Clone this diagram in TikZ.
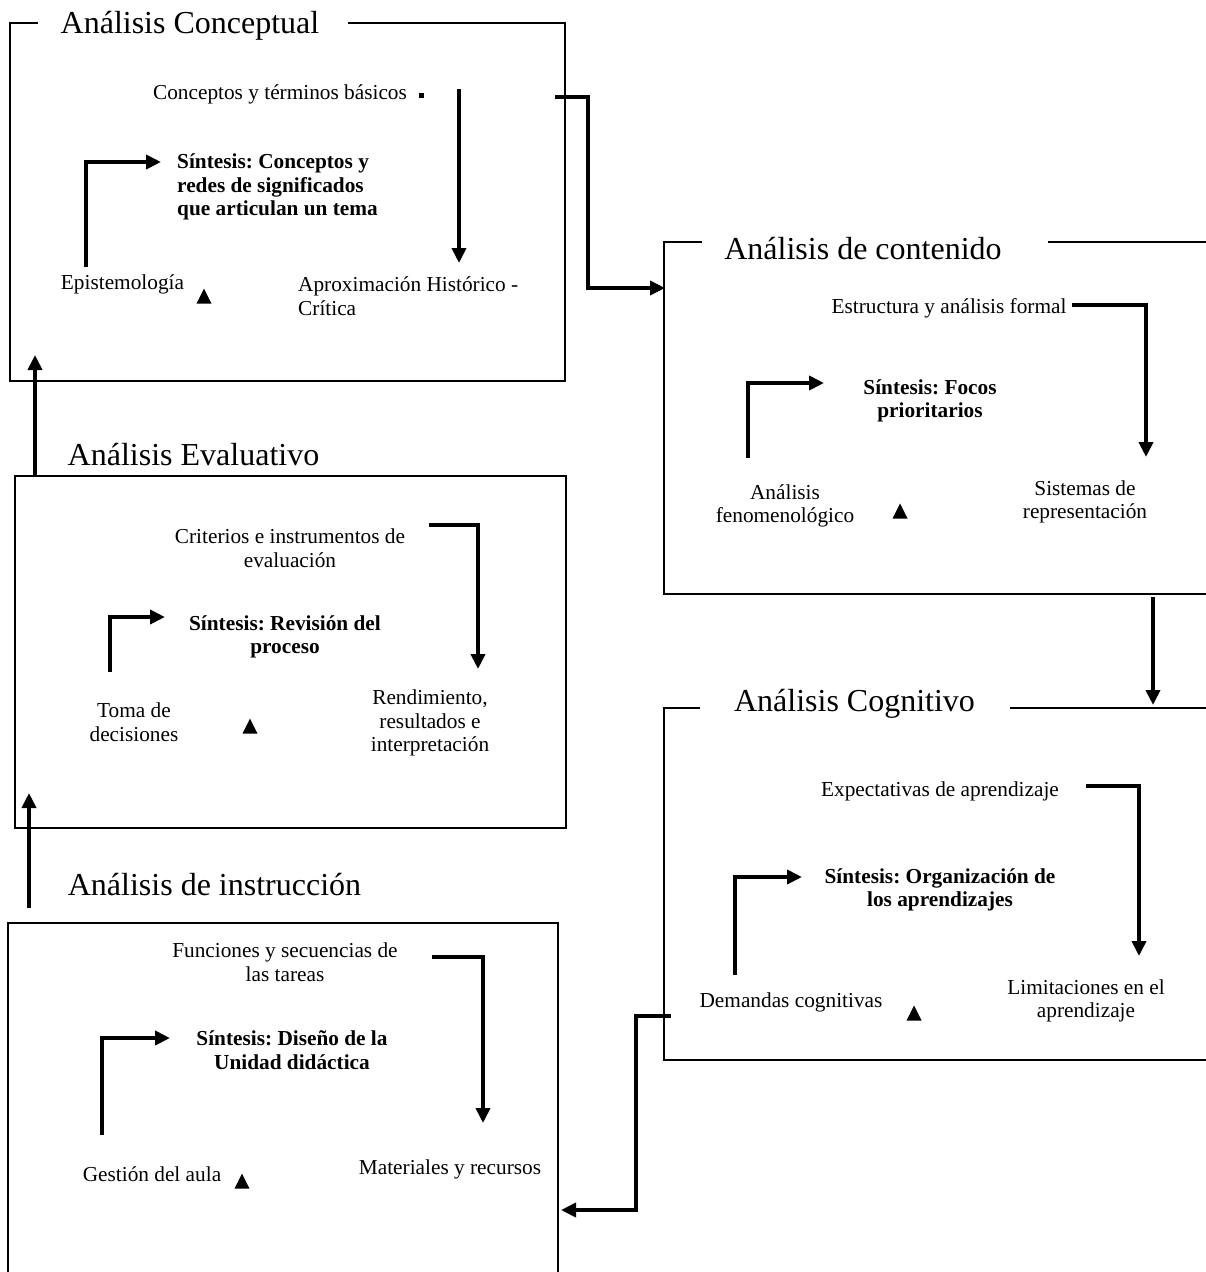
\documentclass[tikz,border=0pt]{standalone}
\usepackage{fontspec}
\setmainfont{Liberation Serif}
\usetikzlibrary{arrows.meta}
% small filled triangle under each cycle
\newcommand\marca[1]{\fill (#1) ++(-7.5,7.5) -- ++(15,0) -- ++(-7.5,-15) -- cycle;}
\begin{document}
\frenchspacing
\begin{tikzpicture}[x=1pt, y=-1pt,
  marco/.style={line width=1.3pt},
  flecha/.style={line width=4pt, -{Triangle[length=15pt,width=14pt]}},
  texto/.style={font=\fontsize{21.3}{23.5}\selectfont, align=center, inner sep=0pt},
  sintesis/.style={texto, font=\fontsize{21.3}{23.5}\selectfont\bfseries},
  titulo/.style={font=\fontsize{32}{36}\selectfont, inner sep=0pt, anchor=base}]
\clip (0,0) rectangle (1206,1272);

% Analisis Conceptual
\draw[marco] (348,23) -- (565,23) -- (565,381) -- (10,381) -- (10,23) -- (38,23);
\node[titulo] (tconc) at (190,33) {Análisis Conceptual};
\node[texto] (conc1) at (280,94) {Conceptos y términos básicos};
\node[fill, minimum size=5pt, inner sep=0pt] (punto) at (421,95) {};
\node[sintesis, align=left, anchor=west] (conc2) at (177,187) {Síntesis: Conceptos y\\redes de significados\\que articulan un tema};
\node[texto] (conc3) at (122.5,284) {Epistemología};
\node[texto, align=left, anchor=west] (conc4) at (298,296) {Aproximación Histórico -\\Crítica};
\marca{204,296}
\coordinate (conca) at (459,89);  \coordinate (concb) at (459,263);
\coordinate (concc) at (86,267);  \coordinate (concd) at (161,162);
\draw[flecha] (conca) -- (concb);
\draw[flecha] (concc) |- (concd);

% Analisis de contenido
\draw[marco] (1048,242) -- (1215,242) -- (1215,594) -- (664,594) -- (664,242) -- (702,242);
\node[titulo] (tcont) at (863,259) {Análisis de contenido};
\node[texto] (cont1) at (949,308) {Estructura y análisis formal};
\node[sintesis] (cont2) at (930,401) {Síntesis: Focos\\prioritarios};
\node[texto] (cont3) at (785,506) {Análisis\\fenomenológico};
\node[texto] (cont4) at (1085,502) {Sistemas de\\representación};
\marca{900,511}
\coordinate (conta) at (1072,305); \coordinate (contb) at (1146,457);
\coordinate (contc) at (748,458);  \coordinate (contd) at (824,383);
\draw[flecha] (conta) -| (contb);
\draw[flecha] (contc) |- (contd);

% Analisis Cognitivo
\draw[marco] (1010,708) -- (1215,708) -- (1215,1060) -- (664,1060) -- (664,708) -- (700,708);
\node[titulo] (tcog) at (854.5,711) {Análisis Cognitivo};
\node[texto] (cog1) at (940,791) {Expectativas de aprendizaje};
\node[sintesis] (cog2) at (940,890) {Síntesis: Organización de\\los aprendizajes};
\node[texto] (cog3) at (791,1002) {Demandas cognitivas};
\node[texto] (cog4) at (1086,1001) {Limitaciones en el\\aprendizaje};
\marca{914,1013}
\coordinate (coga) at (1086,786); \coordinate (cogb) at (1139,956);
\coordinate (cogc) at (735,975);  \coordinate (cogd) at (802,877);
\draw[flecha] (coga) -| (cogb);
\draw[flecha] (cogc) |- (cogd);

% Analisis Evaluativo
\draw[marco] (15,476) rectangle (566,828);
\node[titulo] (teval) at (193.5,465) {Análisis Evaluativo};
\node[texto] (eval1) at (290,548) {Criterios e instrumentos de\\evaluación};
\node[sintesis] (eval2) at (285,637) {Síntesis: Revisión del\\proceso};
\node[texto] (eval3) at (134,722) {Toma de\\decisiones};
\node[texto] (eval4) at (430,723) {Rendimiento,\\resultados e\\interpretación};
\marca{250,726}
\coordinate (evala) at (429,525); \coordinate (evalb) at (478,669);
\coordinate (evalc) at (110,672); \coordinate (evald) at (165,617);
\draw[flecha] (evala) -| (evalb);
\draw[flecha] (evalc) |- (evald);

% Analisis de instruccion
\draw[marco] (8,1290) -- (8,923) -- (558,923) -- (558,1290);
\node[titulo] (tinst) at (214.5,895) {Análisis de instrucción};
\node[texto] (inst1) at (285,962) {Funciones y secuencias de\\las tareas};
\node[sintesis] (inst2) at (292,1050) {Síntesis: Diseño de la\\Unidad didáctica};
\node[texto] (inst3) at (152,1174) {Gestión del aula};
\node[texto] (inst4) at (450,1169) {Materiales y recursos};
\marca{242,1181}
\coordinate (insta) at (432,957); \coordinate (instb) at (483,1123);
\coordinate (instc) at (102,1135); \coordinate (instd) at (170,1038);
\draw[flecha] (insta) -| (instb);
\draw[flecha] (instc) |- (instd);

% enlaces entre analisis
\coordinate (s1) at (555,97);   \coordinate (k1) at (588,288);  \coordinate (e1) at (665,288);
\coordinate (s2) at (1153,597); \coordinate (e2) at (1153,705);
\coordinate (s3) at (671,1016); \coordinate (k3) at (636,1210); \coordinate (e3) at (561,1210);
\coordinate (s4) at (29,908);   \coordinate (e4) at (29,793);
\coordinate (s5) at (35,476);   \coordinate (e5) at (35,355);
\draw[flecha] (s1) -| (k1) -- (e1);
\draw[flecha] (s2) -- (e2);
\draw[flecha] (s3) -| (k3) -- (e3);
\draw[flecha] (s4) -- (e4);
\draw[flecha] (s5) -- (e5);
\end{tikzpicture}
\end{document}
